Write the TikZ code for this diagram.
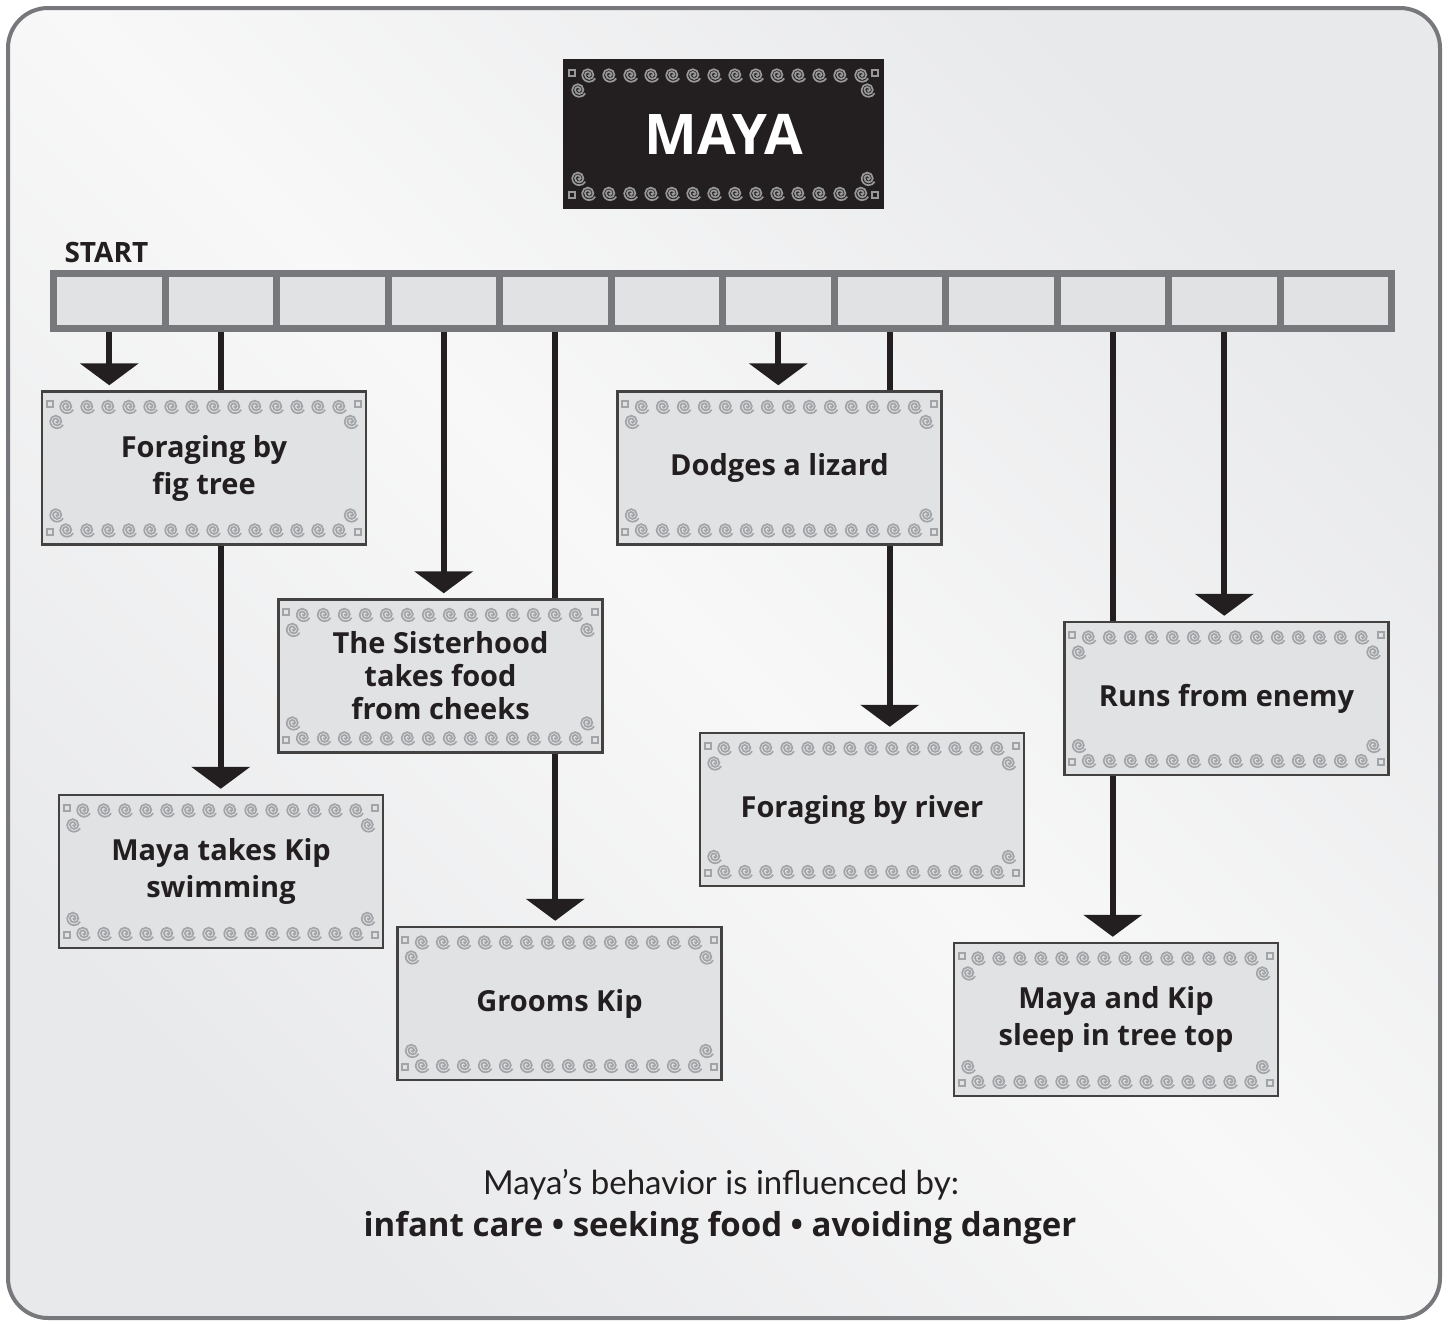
\documentclass[tikz,border=0pt]{standalone}
\usepackage{fontspec}
\setmainfont{Lato}
\newfontfamily\heavy{Open Sans}
\usetikzlibrary{arrows.meta,calc}
\definecolor{ink}{HTML}{231F20}
\definecolor{framecol}{HTML}{77787B}
\definecolor{cellfill}{HTML}{E1E2E4}
\definecolor{boxfill}{HTML}{E1E2E4}
\definecolor{orncol}{HTML}{A2A4A7}
\definecolor{bgA}{HTML}{E8E9EB}
\definecolor{bgB}{HTML}{F8F8F8}
\pgfdeclarelayer{bgzero}
\pgfdeclarelayer{bgone}
\pgfsetlayers{bgzero,bgone,main}
\tikzset{
  ornline/.style={draw=orncol, line width=1.7pt},
  evt/.style={draw=ink!85, line width=2.5pt, fill=boxfill, minimum width=324pt, minimum height=153pt,
    inner sep=0pt, align=center, text=ink, font=\heavy\fontsize{29}{37}\selectfont\bfseries},
  cellbox/.style={draw=framecol, line width=7pt, fill=cellfill, minimum width=111.5pt, minimum height=55pt, inner sep=0pt},
  arr/.style={draw=ink, line width=6pt, -{Triangle[width=58pt,length=22pt]}, shorten >=5pt},
}
\newcommand\spiralat[1]{%
  \draw[ornline] #1 arc[start angle=180,end angle=0,radius=1.4]
    arc[start angle=0,end angle=-180,radius=2.8]
    arc[start angle=180,end angle=0,radius=4.2]
    arc[start angle=0,end angle=-180,radius=5.6]
    arc[start angle=180,end angle=30,radius=7.0];}
\newcommand\ornament[1]{%
  \foreach \k in {0,...,13}{%
    \spiralat{($(#1.north west)+({25+\k*21},16)$)}
    \spiralat{($(#1.south west)+({25+\k*21},-16)$)}
  }
  \spiralat{($(#1.north west)+(15,31)$)}
  \spiralat{($(#1.north east)+(-17,31)$)}
  \spiralat{($(#1.south west)+(15,-31)$)}
  \spiralat{($(#1.south east)+(-17,-31)$)}
  \draw[ornline] ($(#1.north west)+(6,11)$) rectangle ++(6,6);
  \draw[ornline] ($(#1.north east)+(-12,11)$) rectangle ++(6,6);
  \draw[ornline] ($(#1.south west)+(6,-17)$) rectangle ++(6,6);
  \draw[ornline] ($(#1.south east)+(-12,-17)$) rectangle ++(6,6);
}
\begin{document}
\begin{tikzpicture}[x=1pt,y=-1pt]
\useasboundingbox (0,0) rectangle (1447,1326);
\begin{pgfonlayer}{bgzero}
\shade[left color=bgA, right color=bgA, middle color=bgB, shading angle=135, rounded corners=40pt]
  (8,8) rectangle (1440,1318);
\draw[framecol, line width=4pt, rounded corners=40pt] (8,8) rectangle (1440,1318);
\end{pgfonlayer}

% title
\node[fill=ink, minimum width=321pt, minimum height=150pt, inner sep=0pt, text=white,
  font=\heavy\fontsize{56}{60}\selectfont\bfseries] (title) at (723.5,134) {MAYA};
\begin{scope}[ornline/.style={draw=gray!80, line width=1.7pt}]
\ornament{title}
\end{scope}

\node[anchor=base west, text=ink, font=\heavy\fontsize{28}{30}\selectfont\bfseries] (start) at (61,262) {START};

\foreach \i in {1,...,12}
  \node[cellbox] (c\i) at ({109.25+(\i-1)*111.5},301) {};

% event boxes
\node[evt] (b1) at (204,468) {Foraging by\\fig tree};
\node[evt] (b2) at (221,871.5) {Maya takes Kip\\swimming};
\node[evt, font=\heavy\fontsize{29}{33}\selectfont\bfseries] (b3) at (440.5,676) {The Sisterhood\\takes food\\from cheeks};
\node[evt] (b4) at (559.5,1003.5) {Grooms Kip};
\node[evt] (b5) at (779.5,468) {Dodges a lizard};
\node[evt] (b6) at (862,809.5) {Foraging by river};
\node[evt] (b7) at (1226.5,698.5) {Runs from enemy};
\node[evt] (b8) at (1116,1019.5) {Maya and Kip\\sleep in tree top};
\foreach \b in {b1,b2,b3,b4,b5,b6,b7,b8}{\ornament{\b}}

\begin{pgfonlayer}{bgone}
\draw[arr] (c1.south) -- (c1.south |- b1.north);
\draw[arr] (c2.south) -- (c2.south |- b2.north);
\draw[arr] (c4.south) -- (c4.south |- b3.north);
\draw[arr] (c5.south) -- (c5.south |- b4.north);
\draw[arr] (c7.south) -- (c7.south |- b5.north);
\draw[arr] (c8.south) -- (c8.south |- b6.north);
\draw[arr] (c10.south) -- (c10.south |- b8.north);
\draw[arr] (c11.south) -- (c11.south |- b7.north);
\end{pgfonlayer}

\node[anchor=base, text=ink, font=\fontsize{33}{40}\selectfont] (infl) at (721,1194) {Maya’s behavior is influenced by:};
\node[anchor=base, text=ink, font=\heavy\fontsize{33}{40}\selectfont\bfseries] (list) at (720,1236) {infant care • seeking food • avoiding danger};
\end{tikzpicture}
\end{document}
